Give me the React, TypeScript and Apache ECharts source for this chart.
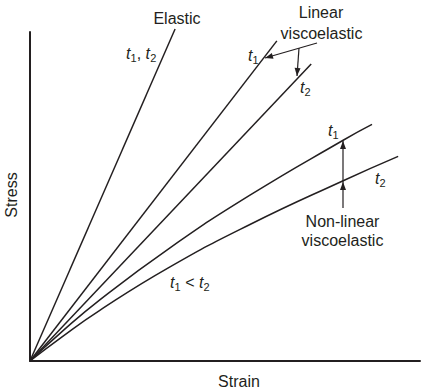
import React, { useEffect, useRef } from "react";
import * as echarts from "echarts";

// Strain (x) / Stress (y) in relative units, 0..100 on both axes
const elasticStrain = [0, 37.2];
const elasticStress = [0, 100.9];

const linearT1Strain = [0, 63.3];
const linearT1Stress = [0, 97.3];

const linearT2Strain = [0, 72.1];
const linearT2Stress = [0, 90.3];

const nonlinT1Strain = [0, 7.7, 17.9, 35.9, 56.4, 80.3, 87.7];
const nonlinT1Stress = [0, 8.4, 18.6, 34.4, 50.4, 67.1, 71.9];

const nonlinT2Strain = [0, 7.7, 17.9, 35.9, 56.4, 80.3, 94.4];
const nonlinT2Stress = [0, 6.9, 15.4, 28.6, 41.5, 54.8, 62.2];

const INK = "#231f20";
const FONT = "'Liberation Sans', Arial, Helvetica, sans-serif";

const zip = (xs: number[], ys: number[]) => xs.map((x, i) => [x, ys[i]]);

function head(tip: [number, number], from: [number, number], len = 8, hw = 3) {
  const dx = tip[0] - from[0];
  const dy = tip[1] - from[1];
  const d = Math.hypot(dx, dy);
  const ux = dx / d, uy = dy / d;
  const bx = tip[0] - ux * len, by = tip[1] - uy * len;
  const px = -uy, py = ux;
  return {
    type: "polygon",
    shape: { points: [tip, [bx + px * hw, by + py * hw], [bx - px * hw, by - py * hw]] },
    style: { fill: INK },
  };
}

function seg(x1: number, y1: number, x2: number, y2: number) {
  return { type: "line", shape: { x1, y1, x2, y2 }, style: { stroke: INK, lineWidth: 1.2 } };
}

function txt(text: string, x: number, y: number, extra: any = {}) {
  return {
    type: "text",
    x,
    y,
    ...extra,
    style: {
      text,
      fill: INK,
      font: `16px ${FONT}`,
      align: "center",
      verticalAlign: "middle",
      ...(extra.style || {}),
    },
  };
}

// parts: [text, kind] kind: i = italic t, s = subscript, n = normal
function tlabel(x: number, y: number, parts: [string, string][]) {
  const widths: Record<string, number> = { i: 4.6, s: 6.1 };
  const els: any[] = [];
  let cx = x;
  for (const [t, k] of parts) {
    if (k === "i") {
      els.push({ type: "text", x: cx, y, style: { text: t, fill: INK, font: `italic 16px ${FONT}`, align: "left", verticalAlign: "middle" } });
      cx += widths.i;
    } else if (k === "s") {
      els.push({ type: "text", x: cx, y: y + 4.5, style: { text: t, fill: INK, font: `11px ${FONT}`, align: "left", verticalAlign: "middle" } });
      cx += widths.s;
    } else {
      els.push({ type: "text", x: cx, y, style: { text: t, fill: INK, font: `16px ${FONT}`, align: "left", verticalAlign: "middle" } });
      cx += t.length * 4.45 + (t.includes("<") ? 4.9 : 0);
    }
  }
  return els;
}

export default function App() {
  const ref = useRef<HTMLDivElement>(null);
  useEffect(() => {
    if (!ref.current) return;
    const chart = echarts.init(ref.current, null, { renderer: "svg" });
    const lineStyle = { color: INK, width: 1.5 };
    const base = { type: "line", showSymbol: false, symbol: "none", clip: false, lineStyle, silent: true };
    const graphic: any[] = [
      txt("Elastic", 177, 18),
      txt("Linear", 321, 12),
      txt("viscoelastic", 321.5, 33),
      txt("Non-linear", 342.5, 221.5),
      txt("viscoelastic", 342.5, 240.5),
      txt("Strain", 239, 381.5),
      txt("Stress", 11.5, 195, { rotation: Math.PI / 2 }),
      ...tlabel(126, 53, [["t", "i"], ["1", "s"], [", ", "n"], ["t", "i"], ["2", "s"]]),
      ...tlabel(248, 55, [["t", "i"], ["1", "s"]]),
      ...tlabel(300, 87, [["t", "i"], ["2", "s"]]),
      ...tlabel(328, 130, [["t", "i"], ["1", "s"]]),
      ...tlabel(375, 178, [["t", "i"], ["2", "s"]]),
      ...tlabel(170, 282, [["t", "i"], ["1", "s"], [" < ", "n"], ["t", "i"], ["2", "s"]]),
      seg(317, 43, 265, 58),
      head([265, 58], [317, 43]),
      seg(299, 48, 297, 76),
      head([297, 76], [299, 48]),
      seg(343, 208, 343, 141),
      head([343, 182], [343, 208]),
      head([343, 141], [343, 208]),
    ];
    chart.setOption({
      animation: false,
      backgroundColor: "#ffffff",
      grid: { left: 30, right: 6, top: 32, bottom: 31 },
      xAxis: {
        type: "value",
        min: 0,
        max: 100,
        axisLine: { show: true, lineStyle: { color: INK, width: 2 } },
        axisTick: { show: false },
        axisLabel: { show: false },
        splitLine: { show: false },
      },
      yAxis: {
        type: "value",
        min: 0,
        max: 100,
        axisLine: { show: true, lineStyle: { color: INK, width: 2 } },
        axisTick: { show: false },
        axisLabel: { show: false },
        splitLine: { show: false },
      },
      series: [
        { ...base, name: "Elastic", data: zip(elasticStrain, elasticStress) },
        { ...base, name: "Linear t1", data: zip(linearT1Strain, linearT1Stress) },
        { ...base, name: "Linear t2", data: zip(linearT2Strain, linearT2Stress) },
        { ...base, name: "Non-linear t1", smooth: 0.5, data: zip(nonlinT1Strain, nonlinT1Stress) },
        { ...base, name: "Non-linear t2", smooth: 0.5, data: zip(nonlinT2Strain, nonlinT2Stress) },
      ],
      graphic,
    });
    return () => chart.dispose();
  }, []);
  return (
    <div
      ref={ref}
      style={{ position: "fixed", left: 0, top: 0, width: 426, height: 392, background: "#fff" }}
    />
  );
}
